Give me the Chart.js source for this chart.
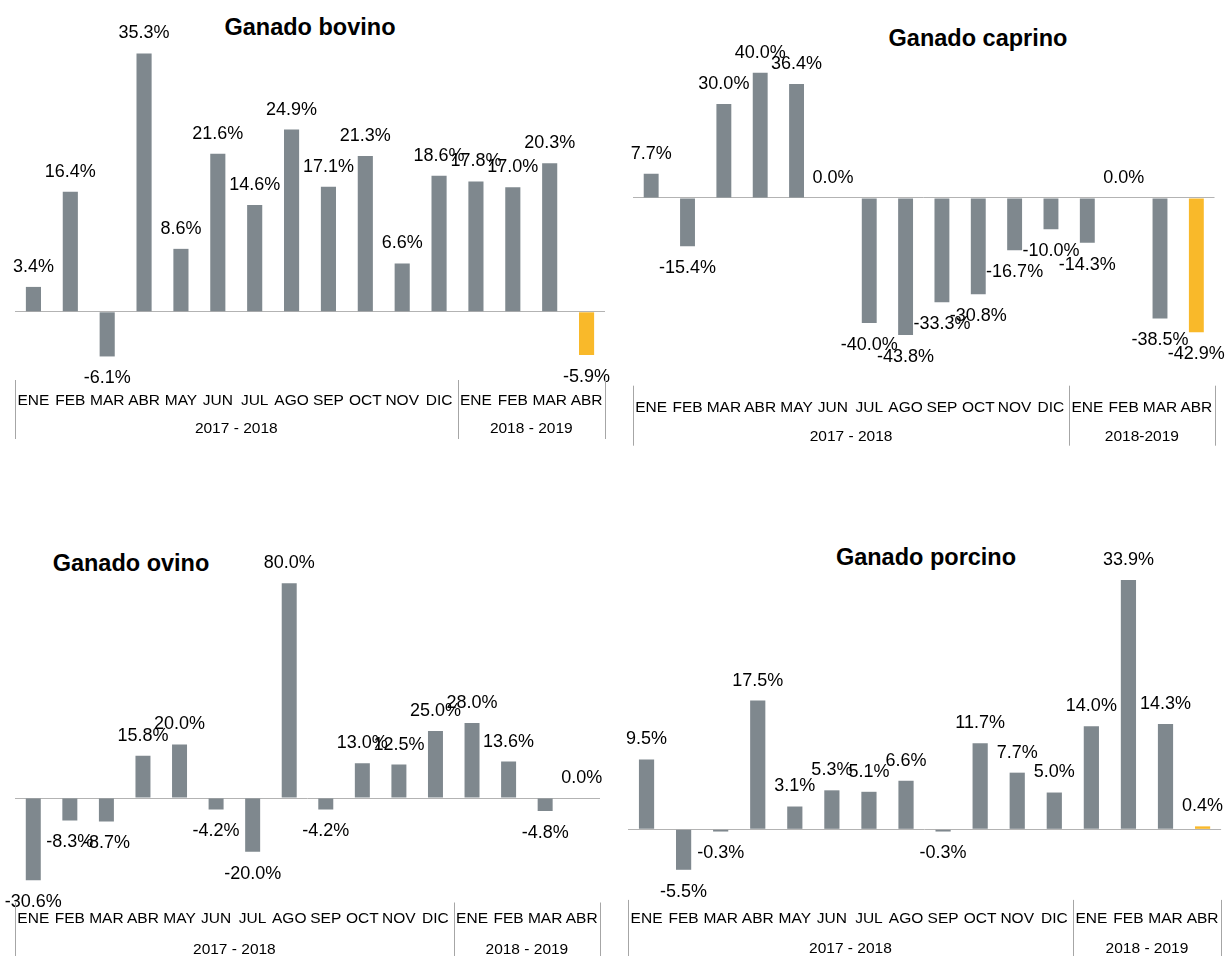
<!DOCTYPE html>
<html>
<head>
<meta charset="utf-8">
<script src="https://cdn.jsdelivr.net/npm/chart.js@4/dist/chart.umd.min.js"></script>
<style>
  body { margin: 0; background: #fff; width: 1225px; height: 956px; position: relative; overflow: hidden; font-family: "Liberation Sans", Arial, sans-serif; }
  canvas { position: absolute; }
  .title { position: absolute; font-weight: bold; font-size: 23.5px; color: #000; white-space: nowrap; transform: translate(-50%, -50%); }
</style>
</head>
<body>
<div class="title" style="left:310px; top:27px">Ganado bovino</div>
<div class="title" style="left:978px; top:38px">Ganado caprino</div>
<div class="title" style="left:131px; top:563px">Ganado ovino</div>
<div class="title" style="left:926px; top:557px">Ganado porcino</div>
<canvas id="bovino" width="612" height="478" style="left:0; top:0"></canvas>
<canvas id="caprino" width="605" height="478" style="left:620px; top:0"></canvas>
<canvas id="ovino" width="612" height="478" style="left:0; top:478px"></canvas>
<canvas id="porcino" width="613" height="478" style="left:612px; top:478px"></canvas>
<script>
// months: 12 of 2017-2018 + 4 of 2018-2019
const months = ['ENE','FEB','MAR','ABR','MAY','JUN','JUL','AGO','SEP','OCT','NOV','DIC','ENE','FEB','MAR','ABR'];

const bovino  = [3.4, 16.4, -6.1, 35.3, 8.6, 21.6, 14.6, 24.9, 17.1, 21.3, 6.6, 18.6, 17.8, 17.0, 20.3, -5.9];
const caprino = [7.7, -15.4, 30.0, 40.0, 36.4, 0.0, -40.0, -43.8, -33.3, -30.8, -16.7, -10.0, -14.3, 0.0, -38.5, -42.9];
const ovino   = [-30.6, -8.3, -8.7, 15.8, 20.0, -4.2, -20.0, 80.0, -4.2, 13.0, 12.5, 25.0, 28.0, 13.6, -4.8, 0.0];
const porcino = [9.5, -5.5, -0.3, 17.5, 3.1, 5.3, 5.1, 6.6, -0.3, 11.7, 7.7, 5.0, 14.0, 33.9, 14.3, 0.4];

const groupsA = [['2017 - 2018', 12], ['2018 - 2019', 4]];
const groupsB = [['2017 - 2018', 12], ['2018-2019', 4]];

const GRAY = '#7f888e';
const ORANGE = '#f9b92a';
const FONT = '"Liberation Sans", Arial, sans-serif';

// last month (current) is highlighted
const barColors = vals => vals.map((v, i) => i === vals.length - 1 ? ORANGE : GRAY);

// value labels above / below each bar
const barLabels = {
  id: 'barLabels',
  afterDatasetsDraw(chart) {
    const ctx = chart.ctx;
    const vals = chart.data.datasets[0].data;
    ctx.save();
    ctx.font = '18px ' + FONT;
    ctx.fillStyle = '#000';
    ctx.textAlign = 'center';
    ctx.textBaseline = 'middle';
    chart.getDatasetMeta(0).data.forEach((bar, i) => {
      const v = vals[i];
      ctx.fillText(v.toFixed(1) + '%', bar.x, v >= 0 ? bar.y - 20 : bar.y + 22);
    });
    ctx.restore();
  }
};

// second category level (season) with separators
const groupAxis = {
  id: 'groupAxis',
  afterDraw(chart, args, opts) {
    const ctx = chart.ctx, x = chart.scales.x, area = chart.chartArea;
    const b = area.bottom;
    ctx.save();
    ctx.strokeStyle = '#a6a6a6';
    ctx.lineWidth = 1;
    ctx.font = '15.5px ' + FONT;
    ctx.fillStyle = '#000';
    ctx.textAlign = 'center';
    ctx.textBaseline = 'middle';
    let start = 0;
    const edge = i => i === 0 ? area.left : i === months.length ? area.right
      : (x.getPixelForValue(i - 1) + x.getPixelForValue(i)) / 2;
    const sep = px => {
      ctx.beginPath();
      ctx.moveTo(Math.round(px) + 0.5, b + opts.sepTop);
      ctx.lineTo(Math.round(px) + 0.5, b + opts.sepBottom);
      ctx.stroke();
    };
    sep(edge(0));
    opts.groups.forEach(([label, n]) => {
      const l = edge(start), r = edge(start + n);
      ctx.fillText(label, (l + r) / 2, b + opts.labelY);
      sep(r);
      start += n;
    });
    ctx.restore();
  }
};

function makeChart(id, vals, o) {
  return new Chart(document.getElementById(id), {
    type: 'bar',
    data: {
      labels: months,
      datasets: [{ data: vals, backgroundColor: barColors(vals), barPercentage: 0.41, categoryPercentage: 1 }]
    },
    options: {
      responsive: false,
      animation: false,
      layout: { padding: o.padding },
      plugins: {
        legend: { display: false },
        tooltip: { enabled: false },
        groupAxis: { groups: o.groups, sepTop: o.sepTop, sepBottom: o.sepBottom, labelY: o.labelY }
      },
      scales: {
        x: {
          grid: { display: false, drawTicks: false },
          border: { display: false },
          ticks: { color: '#000', font: { family: FONT, size: 15.5 }, padding: o.tickPad, maxRotation: 0, autoSkip: false }
        },
        y: {
          min: o.min, max: o.max,
          ticks: { display: false, stepSize: 5 },
          border: { display: false },
          grid: { drawTicks: false, lineWidth: 1, color: c => c.tick.value === 0 ? '#b3b3b3' : 'transparent' }
        }
      }
    },
    plugins: [barLabels, groupAxis]
  });
}

makeChart('bovino', bovino, {
  min: -10, max: 40, tickPad: 6, groups: groupsA,
  padding: { left: 15, right: 7, top: 19, bottom: 62.4 },
  sepTop: -5, sepBottom: 54, labelY: 44
});
makeChart('caprino', caprino, {
  min: -60, max: 50, tickPad: 12.5, groups: groupsB,
  padding: { left: 13, right: 7, top: 41.5, bottom: 48.7 },
  sepTop: 0, sepBottom: 60, labelY: 51
});
makeChart('ovino', ovino, {
  min: -40, max: 90, tickPad: 3.5, groups: groupsA,
  padding: { left: 15, right: 12, top: 78.5, bottom: 24.9 },
  sepTop: -3, sepBottom: 56, labelY: 44
});
makeChart('porcino', porcino, {
  min: -10, max: 40, tickPad: 6.4, groups: groupsA,
  padding: { left: 16, right: 3, top: 57, bottom: 21.7 },
  sepTop: -3, sepBottom: 56, labelY: 46
});
</script>
</body>
</html>
